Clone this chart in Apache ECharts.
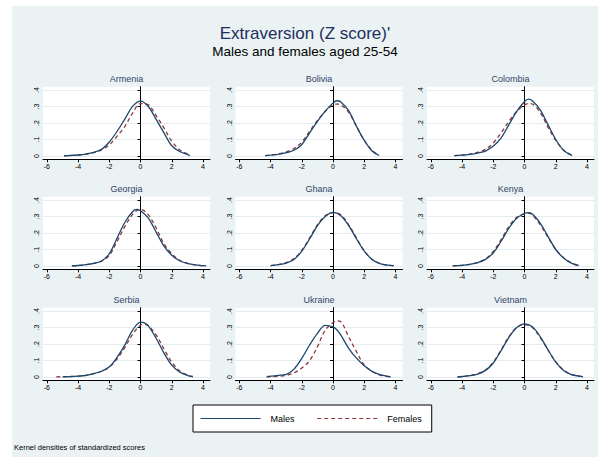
<!DOCTYPE html>
<html><head><meta charset="utf-8">
<script src="https://cdn.jsdelivr.net/npm/echarts@6/dist/echarts.min.js"></script>
<style>html,body{margin:0;padding:0;background:#fff}#c{width:610px;height:463px}</style>
</head><body><div id="c"></div>
<script>
const countries = ['Armenia','Bolivia','Colombia','Georgia','Ghana','Kenya','Serbia','Ukraine','Vietnam'];
const xTicks = [-6,-4,-2,0,2,4];
const yTicks = [0,0.1,0.2,0.3,0.4];

const armX = [-4.9,-4.5,-4,-3.5,-3,-2.5,-2,-1.5,-1,-0.5,0,0.5,1,1.5,2,2.5,3,3.15];
const armM = [0.001,0.003,0.006,0.012,0.022,0.04,0.085,0.15,0.225,0.302,0.333,0.3,0.222,0.14,0.062,0.027,0.01,0.002];
const armF = [0.001,0.003,0.006,0.011,0.02,0.037,0.068,0.12,0.18,0.262,0.318,0.31,0.245,0.17,0.09,0.038,0.012,0.003];

const bolX = [-4.35,-4,-3.5,-3,-2.5,-2,-1.5,-1,-0.5,0,0.25,0.5,1,1.5,2,2.5,2.95];
const bolM = [0.002,0.005,0.01,0.02,0.035,0.07,0.14,0.21,0.272,0.322,0.335,0.328,0.275,0.18,0.095,0.03,0.003];
const bolF = [0.002,0.006,0.013,0.025,0.045,0.085,0.15,0.215,0.27,0.31,0.315,0.31,0.265,0.18,0.095,0.035,0.004];

const colX = [-4.5,-4,-3.5,-3,-2.5,-2,-1.5,-1,-0.5,0,0.25,0.5,1,1.5,2,2.5,3.05];
const colM = [0.002,0.005,0.01,0.018,0.03,0.06,0.11,0.19,0.27,0.33,0.345,0.335,0.28,0.19,0.1,0.035,0.003];
const colF = [0.002,0.006,0.012,0.022,0.04,0.08,0.14,0.21,0.27,0.31,0.318,0.315,0.265,0.175,0.095,0.035,0.004];

const geoX = [-4.4,-4,-3.5,-3,-2.5,-2,-1.5,-1,-0.5,-0.25,0,0.5,1,1.5,2,2.5,3,3.5,4,4.2];
const geoM = [0.001,0.003,0.008,0.016,0.03,0.075,0.17,0.265,0.33,0.343,0.335,0.29,0.205,0.12,0.065,0.032,0.016,0.007,0.002,0.001];
const geoF = [0.001,0.003,0.008,0.016,0.03,0.065,0.15,0.24,0.315,0.335,0.343,0.31,0.23,0.135,0.075,0.035,0.016,0.007,0.002,0.001];

const ghaX = [-4,-3.5,-3,-2.5,-2,-1.5,-1,-0.5,0,0.5,1,1.5,2,2.5,3,3.5,3.9];
const ghaM = [0.002,0.008,0.018,0.04,0.09,0.165,0.245,0.3,0.325,0.305,0.245,0.165,0.09,0.04,0.015,0.005,0.002];
const ghaF = [0.002,0.009,0.02,0.045,0.095,0.17,0.25,0.305,0.323,0.31,0.25,0.17,0.092,0.04,0.015,0.005,0.002];

const kenX = [-4.6,-4,-3.5,-3,-2.5,-2,-1.5,-1,-0.5,0,0.2,0.5,1,1.5,2,2.5,3,3.47];
const kenM = [0.001,0.004,0.01,0.02,0.04,0.08,0.15,0.23,0.29,0.318,0.323,0.315,0.26,0.18,0.1,0.048,0.017,0.003];
const kenF = [0.001,0.004,0.01,0.021,0.043,0.088,0.16,0.24,0.295,0.318,0.32,0.31,0.25,0.175,0.1,0.05,0.018,0.003];

const serX = [-5.4,-5,-4.5,-4,-3.5,-3,-2.5,-2,-1.5,-1,-0.5,0,0.25,0.5,1,1.5,2,2.5,3,3.35];
const serM = [null,0.001,0.002,0.005,0.01,0.02,0.035,0.062,0.12,0.195,0.285,0.333,0.328,0.31,0.235,0.145,0.072,0.03,0.01,0.002];
const serF = [0.001,0.002,0.003,0.005,0.01,0.02,0.035,0.06,0.11,0.18,0.26,0.315,0.32,0.31,0.255,0.17,0.09,0.038,0.012,0.003];

const ukrX = [-4.25,-4,-3.5,-3,-2.5,-2,-1.5,-1,-0.5,0,0.25,0.5,1,1.5,2,2.5,3,3.5,3.7];
const ukrM = [0.002,0.005,0.01,0.016,0.048,0.114,0.194,0.264,0.313,0.304,0.285,0.254,0.174,0.114,0.068,0.034,0.014,0.004,0.001];
const ukrF = [0.001,0.002,0.004,0.01,0.025,0.054,0.1,0.184,0.284,0.33,0.34,0.335,0.244,0.154,0.072,0.035,0.012,0.003,0.001];

const vieX = [-4.3,-4,-3.5,-3,-2.5,-2,-1.5,-1,-0.5,0,0.5,1,1.5,2,2.5,3,3.5,3.75];
const vieM = [0.001,0.003,0.008,0.018,0.04,0.085,0.16,0.24,0.3,0.322,0.305,0.245,0.165,0.09,0.04,0.015,0.005,0.001];
const vieF = [0.001,0.003,0.009,0.02,0.042,0.09,0.165,0.245,0.3,0.318,0.3,0.24,0.165,0.092,0.042,0.016,0.005,0.001];

const panelX = [armX,bolX,colX,geoX,ghaX,kenX,serX,ukrX,vieX];
const panelM = [armM,bolM,colM,geoM,ghaM,kenM,serM,ukrM,vieM];
const panelF = [armF,bolF,colF,geoF,ghaF,kenF,serF,ukrF,vieF];

const FONT = 'Liberation Sans, Arial, sans-serif';
const colLeft = [43, 235.5, 427], rowTop = [86.7, 196.7, 307.7], gw = 167, gh = 72.6;
const grids = [], xAxes = [], yAxes = [], series = [], graphics = [];

graphics.push({type:'rect', left:12, top:6, shape:{width:586, height:451}, style:{fill:'#eaf2f3'}, z:-10, silent:true});

countries.forEach((name, i) => {
  const r = Math.floor(i / 3), c = i % 3;
  grids.push({left: colLeft[c], top: rowTop[r], width: gw, height: gh, show: true, backgroundColor: '#fff', borderWidth: 0, containLabel: false});
  xAxes.push({gridIndex: i, type: 'value', min: -6.25, max: 4.45,
    axisLine: {show: true, onZero: false, lineStyle: {color: '#000', width: 1}},
    axisTick: {show: true, length: 3, customValues: xTicks, lineStyle: {color: '#000'}},
    axisLabel: {customValues: xTicks, fontSize: 7, color: '#000', margin: 4, fontFamily: FONT},
    splitLine: {show: false}});
  yAxes.push({gridIndex: i, type: 'value', min: -0.02, max: 0.42,
    axisLine: {show: true, lineStyle: {color: '#000', width: 1}},
    axisTick: {show: true, length: 3, customValues: yTicks, lineStyle: {color: '#000'}},
    axisLabel: {customValues: yTicks, fontSize: 7, color: '#000', margin: 3, rotate: 90, fontFamily: FONT,
      formatter: v => v === 0 ? '0' : String(Math.round(v * 10) / 10).replace('0.', '.')},
    splitLine: {show: true, lineStyle: {color: '#e3ecee', width: 1}}});
  const xs = panelX[i];
  series.push({name: 'Males', type: 'line', xAxisIndex: i, yAxisIndex: i, symbol: 'none', smooth: 0.35,
    data: xs.map((x, k) => [x, panelM[i][k]]), lineStyle: {color: '#1a476f', width: 1.3}, itemStyle: {color: '#1a476f'}, z: 3});
  series.push({name: 'Females', type: 'line', xAxisIndex: i, yAxisIndex: i, symbol: 'none', smooth: 0.35,
    data: xs.map((x, k) => [x, panelF[i][k]]), lineStyle: {color: '#90353b', width: 1.3, type: [4, 3]}, itemStyle: {color: '#90353b'}, z: 2});
  graphics.push({type: 'text', x: colLeft[c] + gw / 2, y: rowTop[r] - 8,
    style: {text: name, fill: '#34426a', font: '9px ' + FONT, textAlign: 'center', textVerticalAlign: 'middle'}});
});

const chart = echarts.init(document.getElementById('c'), null, {renderer: 'svg'});
chart.setOption({
  backgroundColor: '#fff',
  animation: false,
  title: [
    {text: "Extraversion (Z score)'", left: 'center', top: 20, itemGap: 2,
     textStyle: {fontSize: 17, color: '#1e2f5e', fontWeight: 'normal', fontFamily: FONT},
     subtext: 'Males and females aged 25-54',
     subtextStyle: {fontSize: 13.5, color: '#000', fontFamily: FONT}},
    {text: 'Kernel densities of standardized scores', left: 9, top: 438,
     textStyle: {fontSize: 7.5, color: '#000', fontWeight: 'normal', fontFamily: FONT}}
  ],
  legend: {data: ['Males', 'Females'], left: 193, top: 405, orient: 'horizontal', selectedMode: false,
    itemWidth: 60, itemHeight: 10, itemGap: 22, padding: [9, 10, 9, 7],
    backgroundColor: '#fff', borderColor: '#000', borderWidth: 1,
    itemStyle: {opacity: 0},
    lineStyle: {width: 1.2},
    textStyle: {fontSize: 9, color: '#000', fontFamily: FONT, padding: [0, 0, 0, 5]}},
  grid: grids, xAxis: xAxes, yAxis: yAxes, series: series, graphic: graphics
});
</script></body></html>
